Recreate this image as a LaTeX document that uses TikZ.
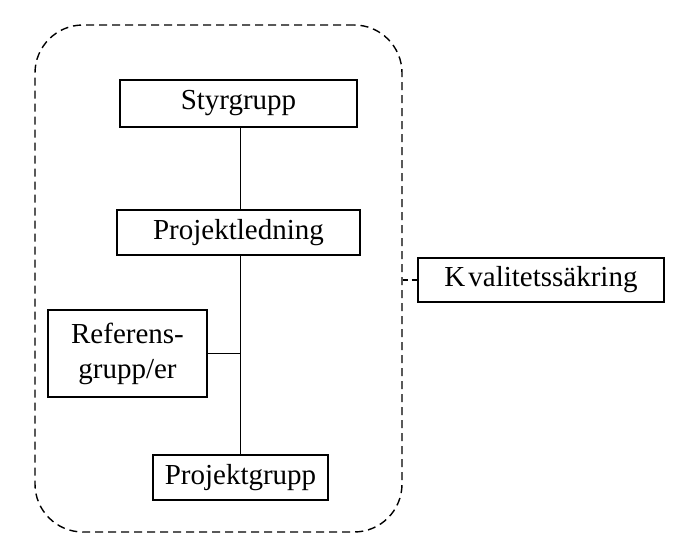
\documentclass[tikz,border=0pt]{standalone}
\usepackage{fontspec}
\setmainfont{Liberation Serif}
\begin{document}
\begin{tikzpicture}[x=1pt,y=-1pt,
  box/.style={draw, line width=1.3pt, inner sep=0pt, align=center,
    font=\fontsize{29}{35}\selectfont},
  conn/.style={line width=1.3pt},
  dashline/.style={line width=1.4pt, dash pattern=on 8pt off 5pt}]
\useasboundingbox (0,0) rectangle (683,546);
\node[draw, dashline, rounded corners=48pt, minimum width=367pt, minimum height=507pt, inner sep=0pt] (frame) at (218.5,278.5) {};
\node[box, minimum width=237pt, minimum height=47pt] (sg) at (238.5,103.5) {Styrgrupp};
\node[box, minimum width=243pt, minimum height=45pt] (pl) at (238.5,232.5) {Projektledning};
\node[box, minimum width=159pt, minimum height=87pt] (rg) at (127.5,353.5) {Referens-\\grupp/er};
\node[box, minimum width=175pt, minimum height=45pt] (pg) at (240.5,477.5) {Projektgrupp};
\node[box, minimum width=246pt, minimum height=44pt] (kv) at (541,280) {K\kern3pt valitetssäkring};
\coordinate (j) at (pg.north |- rg.east);
\draw[conn] (sg.south -| pg.north) -- (pl.north -| pg.north);
\draw[conn] (pl.south -| pg.north) -- (pg.north);
\draw[conn] (rg.east) -- (j);
\draw[line width=1.3pt, dash pattern=on 5pt off 4pt] (frame.east |- kv.west) -- (kv.west);
\end{tikzpicture}
\end{document}
